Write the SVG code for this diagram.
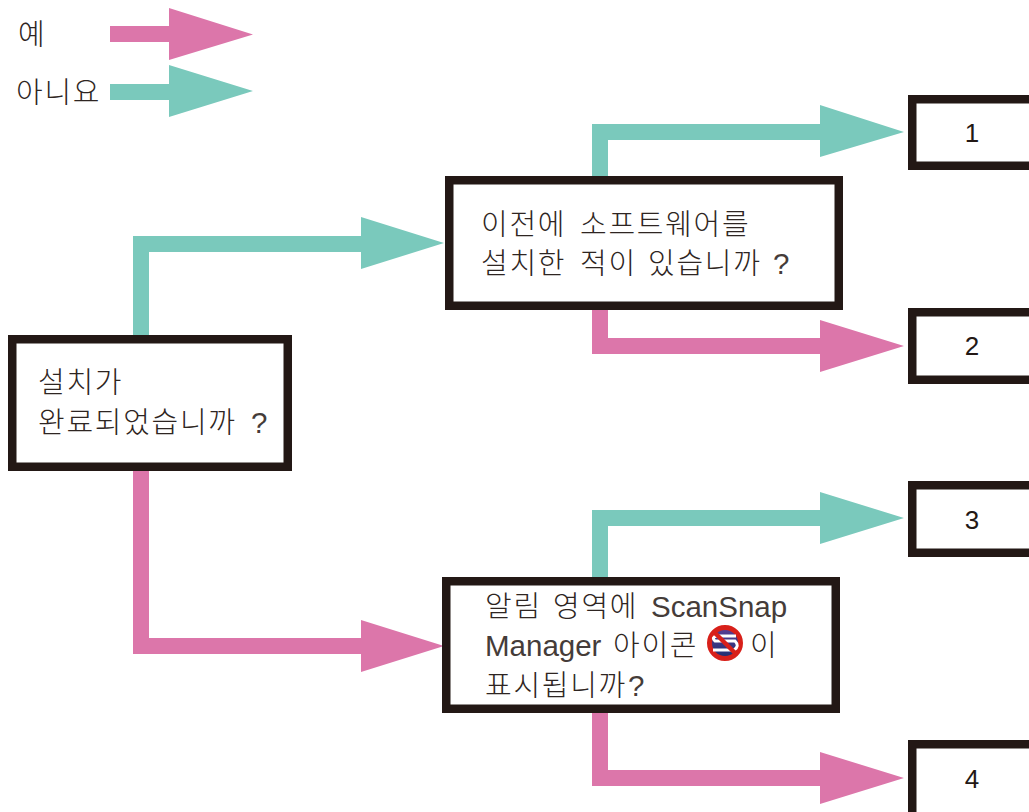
<svg xmlns="http://www.w3.org/2000/svg" width="1029" height="812" viewBox="0 0 1029 812">
<style>
.b{fill:#fff;stroke:#231815;stroke-width:8.500}
.t{font-family:"Noto Sans CJK KR","Liberation Sans",sans-serif;font-size:29px;font-weight:300;fill:#2e2522;letter-spacing:1.700px}
.l{font-family:"Liberation Sans","Noto Sans CJK KR",sans-serif;font-size:29.500px;font-weight:400;letter-spacing:0;fill:#453c39}
.n{font-family:"Liberation Sans",sans-serif;font-size:26px;fill:#231815;text-anchor:middle}
.g{fill:#7ac9bc}
.p{fill:#dc76aa}
</style>
<defs><linearGradient id="ic" x1="0" y1="0" x2="0" y2="1"><stop offset="0" stop-color="#5a3f96"/><stop offset="1" stop-color="#1d2f6f"/></linearGradient></defs>
<rect width="1029" height="812" fill="#fff"/>
<g id="legend">
<text class="t" x="18" y="45">예</text>
<text class="t" x="16" y="103">아니요</text>
<path class="p" d="M110 26H169V8L253 34.500 169 60V42H110Z"/>
<path class="g" d="M110 84H169V65L253 91 169 117V100H110Z"/>
</g>
<g id="connectors">
<path class="g" d="M133 340V236H361V217L444 243 361 269V252H149V340Z"/>
<path class="p" d="M133 467V654H361V672L444 646 361 620V638H149V467Z"/>
<path class="g" d="M592 180V124H820V105L904 132 820 157V140H608V180Z"/>
<path class="p" d="M592 305V354H820V372L904 346 820 320V338H608V305Z"/>
<path class="g" d="M592 582V510H820V492L904 518 820 544V526H608V582Z"/>
<path class="p" d="M592 708V786H820V804L904 778 820 752V770H608V708Z"/>
</g>
<g id="q1"><rect class="b" x="12.250" y="339.250" width="275.500" height="127.500"/>
<text class="t" x="38" y="393">설치가</text>
<text class="t" x="38" y="433">완료되었습니까 <tspan class="l" x="251">?</tspan></text></g>
<g id="q2"><rect class="b" x="449.250" y="180.250" width="389.500" height="125.500"/>
<text class="t" x="481" y="235">이전에 <tspan x="580">소프트웨어를</tspan></text>
<text class="t" x="481" y="274">설치한 <tspan x="580">적이</tspan> <tspan x="648">있습니까</tspan> <tspan class="l" x="773">?</tspan></text></g>
<g id="q3"><rect class="b" x="446.250" y="581.250" width="389.500" height="127.500"/>
<text class="t" x="485" y="617">알림 <tspan x="553">영역에</tspan> <tspan class="l" x="651">ScanSnap</tspan></text>
<text class="t" x="485" y="656"><tspan class="l">Manager</tspan> <tspan x="613">아이콘</tspan></text>
<text class="t" x="750" y="656">이</text>
<text class="t" x="485" y="696">표시됩니까<tspan class="l" x="628">?</tspan></text></g>
<g id="icon">
<circle cx="725" cy="643" r="15.500" fill="url(#ic)" stroke="#d8201a" stroke-width="5"/>
<path d="M736 636H717Q711 637 715 641H735Q740 646 734 650H713" stroke="#fff" stroke-width="3" fill="none"/>
<path d="M713 631L737 655" stroke="#d8201a" stroke-width="4.500"/>
</g>
<g id="r1"><rect class="b" x="912.250" y="99.250" width="125" height="66.500"/><text class="n" x="972" y="142">1</text></g>
<g id="r2"><rect class="b" x="912.250" y="312.250" width="125" height="67.500"/><text class="n" x="972" y="355">2</text></g>
<g id="r3"><rect class="b" x="912.250" y="485.250" width="125" height="67.500"/><text class="n" x="972" y="529">3</text></g>
<g id="r4"><rect class="b" x="912.250" y="744.250" width="125" height="72"/><text class="n" x="972" y="788">4</text></g>
</svg>
